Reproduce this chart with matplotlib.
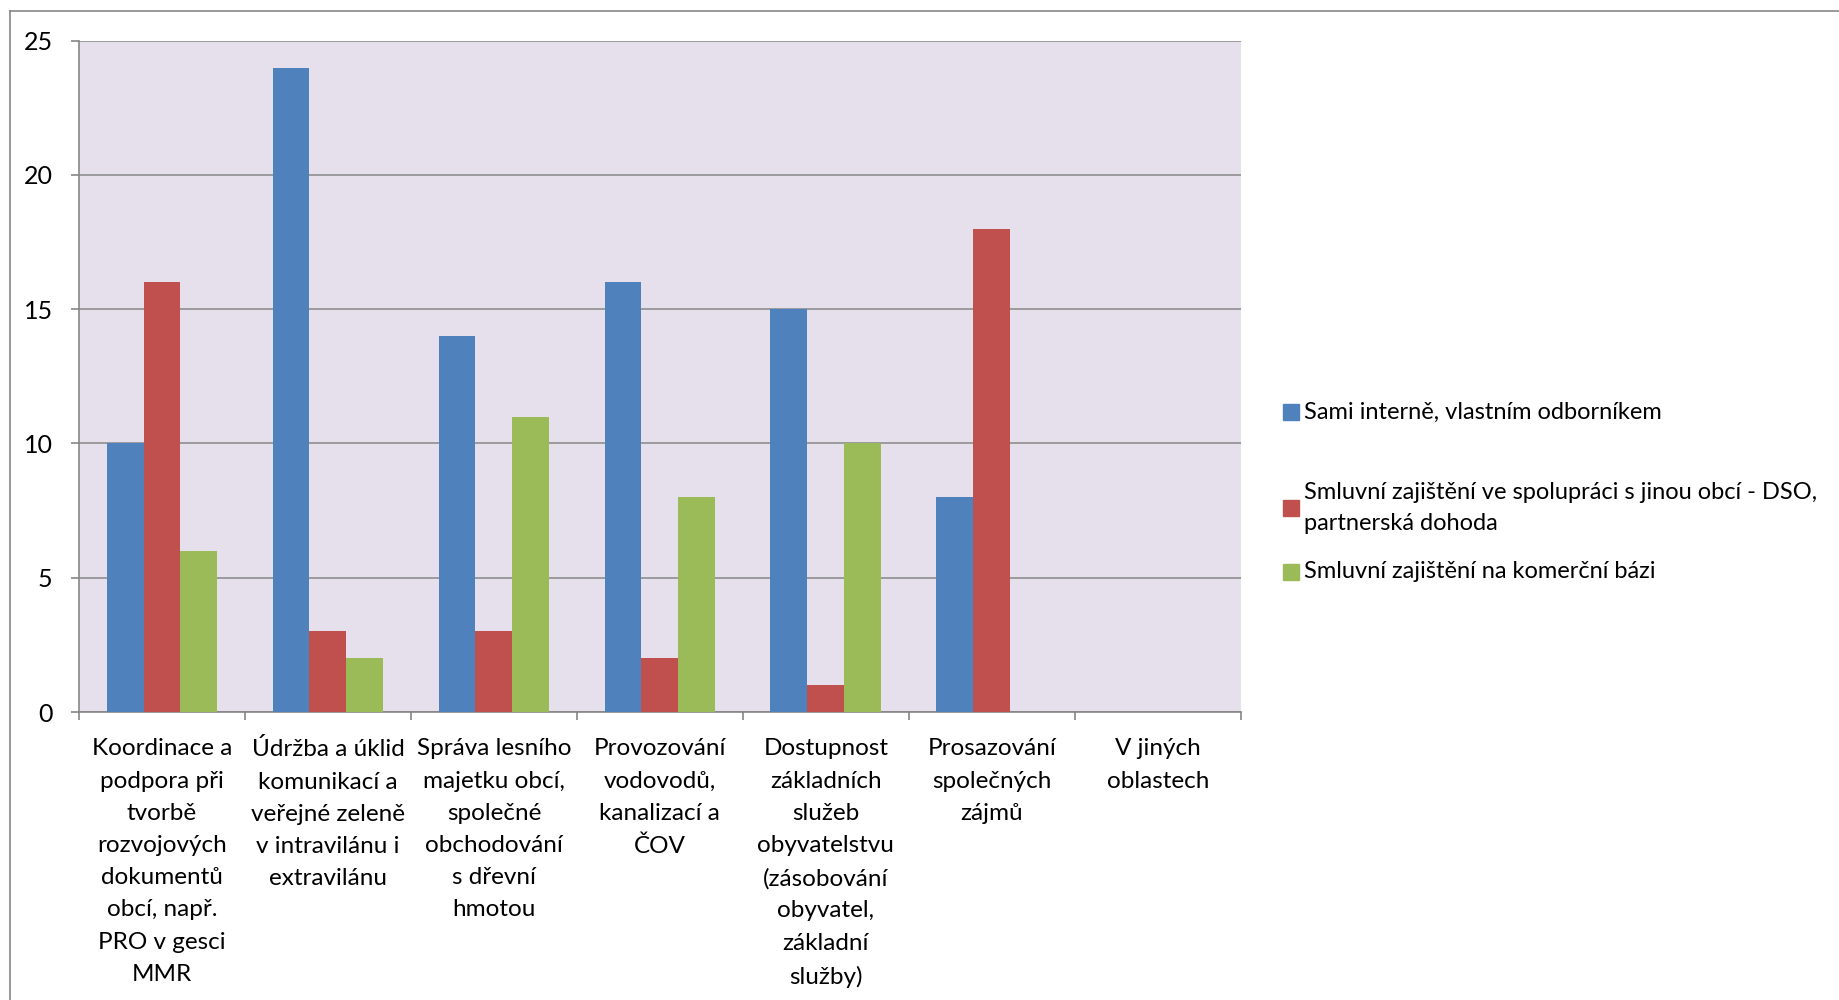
import matplotlib
matplotlib.use("Agg")
import matplotlib.pyplot as plt
from matplotlib.patches import Rectangle
from matplotlib.lines import Line2D
import numpy as np

categories = [
    "Koordinace a\npodpora při\ntvorbě\nrozvojových\ndokumentů\nobcí, např.\nPRO v gesci\nMMR",
    "Údržba a úklid\nkomunikací a\nveřejné zeleně\nv intravilánu i\nextravilánu",
    "Správa lesního\nmajetku obcí,\nspolečné\nobchodování\ns dřevní\nhmotou",
    "Provozování\nvodovodů,\nkanalizací a\nČOV",
    "Dostupnost\nzákladních\nslužeb\nobyvatelstvu\n(zásobování\nobyvatel,\nzákladní\nslužby)",
    "Prosazování\nspolečných\nzájmů",
    "V jiných\noblastech",
]
series_names = [
    "Sami interně, vlastním odborníkem",
    "Smluvní zajištění ve spolupráci s jinou obcí - DSO,\npartnerská dohoda",
    "Smluvní zajištění na komerční bázi",
]
sami = [10, 24, 14, 16, 15, 8, 0]
dso = [16, 3, 3, 2, 1, 18, 0]
komercni = [6, 2, 11, 8, 10, 0, 0]
yticks = [0, 5, 10, 15, 20, 25]

colors = ["#4F81BD", "#C0504D", "#9BBB59"]

plt.rcParams['font.family'] = ['Lato', 'DejaVu Sans']
fig = plt.figure(figsize=(18.39, 10), dpi=100)
W, H = 1839, 1000

# outer chart border (left & top visible)
fig.add_artist(Line2D([10 / W, 10 / W], [0, 1 - 11 / H], transform=fig.transFigure, color="#868686", lw=1.2))
fig.add_artist(Line2D([10 / W, 1], [1 - 11 / H, 1 - 11 / H], transform=fig.transFigure, color="#868686", lw=1.2))

left, right, top, bottom = 79, 1240.7, 40.7, 712
ax = fig.add_axes([left / W, 1 - bottom / H, (right - left) / W, (bottom - top) / H])
ax.set_facecolor("#E6E0EC")

n = len(categories)
x = np.arange(n)
bw = 1 / 4.5
for i, (vals, c) in enumerate(zip([sami, dso, komercni], colors)):
    ax.bar(x + (i - 1) * bw, vals, width=bw, color=c, zorder=3, linewidth=0)

ax.set_xlim(-0.5, n - 0.5)
ax.set_ylim(0, 25)
ax.set_yticks(yticks)
ax.yaxis.grid(True, color="#868686", lw=1.1, zorder=1)
ax.set_axisbelow(True)
for s in ["top", "right"]:
    ax.spines[s].set_visible(False)
for s in ["left", "bottom"]:
    ax.spines[s].set_color("#868686")
    ax.spines[s].set_linewidth(1.2)

ax.set_xticks(x)
ax.set_xticklabels(categories, fontsize=17.5, linespacing=1.66)
ax.tick_params(axis="x", which="major", length=0, pad=19)
ax.set_xticks(np.arange(n + 1) - 0.5, minor=True)
ax.tick_params(axis="x", which="minor", length=6, color="#868686", width=1.2)
ax.tick_params(axis="y", length=6, color="#868686", width=1.2, labelsize=18, pad=13)

# legend (manual placement)
leg_y = [412, 508, 572]
for name, c, yy in zip(series_names, colors, leg_y):
    fig.add_artist(Rectangle((1283 / W, 1 - (yy + 8) / H), 16 / W, 16 / H,
                             transform=fig.transFigure, color=c))
    fig.text(1304 / W, 1 - yy / H, name, fontsize=17, va="center", ha="left", linespacing=1.62)

fig.savefig("out.png", dpi=100)
